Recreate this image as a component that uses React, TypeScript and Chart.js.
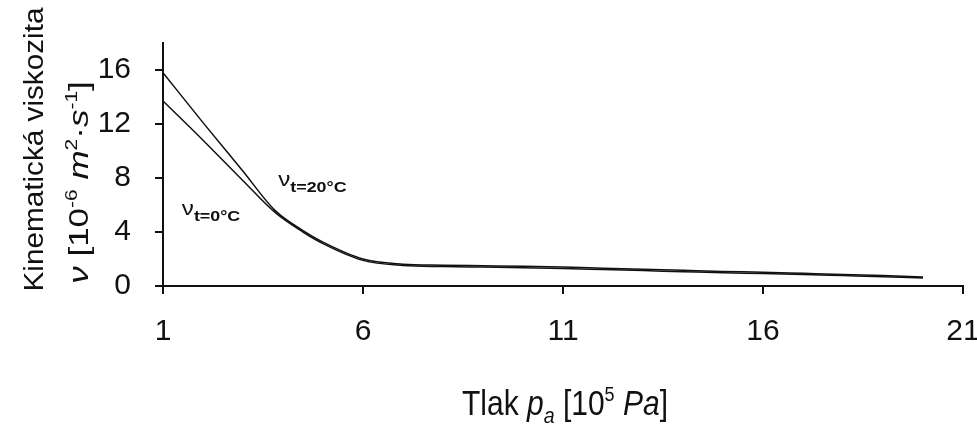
import React, { useEffect, useRef } from "react";
import { Chart, registerables } from "chart.js";

Chart.register(...registerables);

// ---- data ----
const pressure = [1, 2, 3, 3.8, 4.5, 5, 6, 7, 8, 9, 10, 11, 12, 13, 14, 15, 16, 17, 18, 19, 20];
const viscosity20C = [15.8, 12.1, 8.5, 5.6, 4.1, 3.25, 2.0, 1.62, 1.54, 1.5, 1.46, 1.4, 1.32, 1.24, 1.16, 1.08, 1.02, 0.94, 0.86, 0.77, 0.67];
const viscosity0C = [13.7, 10.8, 7.8, 5.45, 4.0, 3.14, 1.9, 1.52, 1.44, 1.4, 1.36, 1.3, 1.22, 1.14, 1.06, 0.98, 0.92, 0.85, 0.77, 0.69, 0.59];
const xTicks = [1, 6, 11, 16, 21];
const yTicks = [0, 4, 8, 12, 16];
const seriesNames = ["t=20°C", "t=0°C"];
// label anchors in data units [pressure, viscosity]
const label20Anchor = [3.88, 7.85];
const label0Anchor = [1.47, 5.7];

const SANS = '"Liberation Sans", Arial, sans-serif';
const INK = "#111";

type Seg = { t: string; it?: boolean; bold?: boolean; rel?: number; dy?: number };

function segFont(s: Seg, size: number, family: string) {
  const px = size * (s.rel ?? 1);
  return `${s.it ? "italic " : ""}${s.bold ? "bold " : ""}${px}px ${family}`;
}

function measureRich(ctx: CanvasRenderingContext2D, segs: Seg[], size: number, family: string) {
  let w = 0;
  for (const s of segs) {
    ctx.font = segFont(s, size, family);
    w += ctx.measureText(s.t).width;
  }
  return w;
}

// draws rich text with alphabetic baseline at (0,0) of current transform
function drawRich(
  ctx: CanvasRenderingContext2D,
  segs: Seg[],
  size: number,
  family: string,
  align: "center" | "left",
  sx: number,
  sy: number
) {
  ctx.save();
  ctx.scale(sx, sy);
  ctx.textBaseline = "alphabetic";
  ctx.textAlign = "left";
  ctx.fillStyle = INK;
  const total = measureRich(ctx, segs, size, family);
  let x = align === "center" ? -total / 2 : 0;
  for (const s of segs) {
    ctx.font = segFont(s, size, family);
    ctx.fillText(s.t, x, (s.dy ?? 0) * size);
    x += ctx.measureText(s.t).width;
  }
  ctx.restore();
}

const xTitle: Seg[] = [
  { t: "Tlak " },
  { t: "p", it: true },
  { t: "a", it: true, rel: 0.65, dy: 0.22 },
  { t: " [10" },
  { t: "5", rel: 0.6, dy: -0.4 },
  { t: " " },
  { t: "Pa", it: true },
  { t: "]" },
];
const yTitle1: Seg[] = [{ t: "Kinematická viskozita" }];
const yTitle2: Seg[] = [
  { t: "ν", it: true },
  { t: " [10" },
  { t: "-6", rel: 0.6, dy: -0.4 },
  { t: " " },
  { t: "m", it: true },
  { t: "2", rel: 0.6, dy: -0.4 },
  { t: "·" },
  { t: "s", it: true },
  { t: "-1", rel: 0.6, dy: -0.4 },
  { t: "]" },
];

function seriesLabel(name: string): Seg[] {
  return [
    { t: "ν" },
    { t: name, bold: true, rel: 0.74, dy: 0.3 },
  ];
}

const titlesPlugin = {
  id: "richTitles",
  afterDraw(chart: any) {
    const ctx: CanvasRenderingContext2D = chart.ctx;
    const xs = chart.scales.x;
    const ys = chart.scales.y;
    const area = chart.chartArea;

    // x title
    ctx.save();
    ctx.translate((area.left + area.right) / 2 + 2, area.bottom + 129);
    drawRich(ctx, xTitle, 30, SANS, "center", 1, 1.15);
    ctx.restore();

    // y title, two rotated lines
    const midY = (area.top + area.bottom) / 2;
    ctx.save();
    ctx.translate(area.left - 120, midY - 15);
    ctx.rotate(-Math.PI / 2);
    drawRich(ctx, yTitle1, 27, SANS, "center", 1.1, 1);
    ctx.restore();

    ctx.save();
    ctx.translate(area.left - 75, midY + 18);
    ctx.rotate(-Math.PI / 2);
    drawRich(ctx, yTitle2, 28, SANS, "center", 1.25, 1);
    ctx.restore();

    // series labels
    const anchors = [label20Anchor, label0Anchor];
    anchors.forEach((a, i) => {
      const px = xs.getPixelForValue(a[0]);
      const py = ys.getPixelForValue(a[1]);
      ctx.save();
      ctx.translate(px, py + 6);
      drawRich(ctx, seriesLabel(seriesNames[i]), 21, SANS, "left", 1.15, 1);
      ctx.restore();
    });
  },
};

export default function App() {
  const ref = useRef<HTMLCanvasElement | null>(null);

  useEffect(() => {
    if (!ref.current) return;
    const toPts = (ys: number[]) => pressure.map((x, i) => ({ x, y: ys[i] }));
    const chart = new Chart(ref.current, {
      type: "line",
      data: {
        datasets: [
          {
            label: seriesNames[0],
            data: toPts(viscosity20C),
            borderColor: INK,
            borderWidth: 1.5,
            pointRadius: 0,
            cubicInterpolationMode: "monotone",
            fill: false,
          },
          {
            label: seriesNames[1],
            data: toPts(viscosity0C),
            borderColor: INK,
            borderWidth: 1.5,
            pointRadius: 0,
            cubicInterpolationMode: "monotone",
            fill: false,
          },
        ],
      },
      options: {
        animation: false,
        responsive: true,
        maintainAspectRatio: false,
        layout: { padding: { top: 43, right: 14, bottom: 0, left: 0 } },
        plugins: {
          legend: { display: false },
          tooltip: { enabled: false },
          title: { display: false },
        },
        scales: {
          x: {
            type: "linear",
            min: 1,
            max: 21,
            afterBuildTicks: (s: any) => {
              s.ticks = xTicks.map((v) => ({ value: v }));
            },
            afterFit: (s: any) => {
              s.height = 142;
              s.paddingLeft = 0;
              s.paddingRight = 0;
            },
            grid: {
              display: true,
              drawOnChartArea: false,
              drawTicks: true,
              tickLength: 8,
              color: INK,
              lineWidth: 2,
            },
            border: { display: true, color: INK, width: 2 },
            ticks: {
              color: INK,
              padding: 20,
              maxRotation: 0,
              font: { family: SANS, size: 30 },
            },
          },
          y: {
            type: "linear",
            min: 0,
            max: 18,
            afterBuildTicks: (s: any) => {
              s.ticks = yTicks.map((v) => ({ value: v }));
            },
            afterFit: (s: any) => {
              s.width = 163;
            },
            grid: {
              display: true,
              drawOnChartArea: false,
              drawTicks: true,
              tickLength: 8,
              color: INK,
              lineWidth: 2,
            },
            border: { display: true, color: INK, width: 2 },
            ticks: {
              color: INK,
              padding: 24,
              font: { family: SANS, size: 30 },
            },
          },
        },
      },
      plugins: [titlesPlugin],
    } as any);
    return () => chart.destroy();
  }, []);

  return (
    <div style={{ position: "absolute", left: 0, top: 0, width: 977, height: 428, background: "#fff" }}>
      <canvas ref={ref} />
    </div>
  );
}
